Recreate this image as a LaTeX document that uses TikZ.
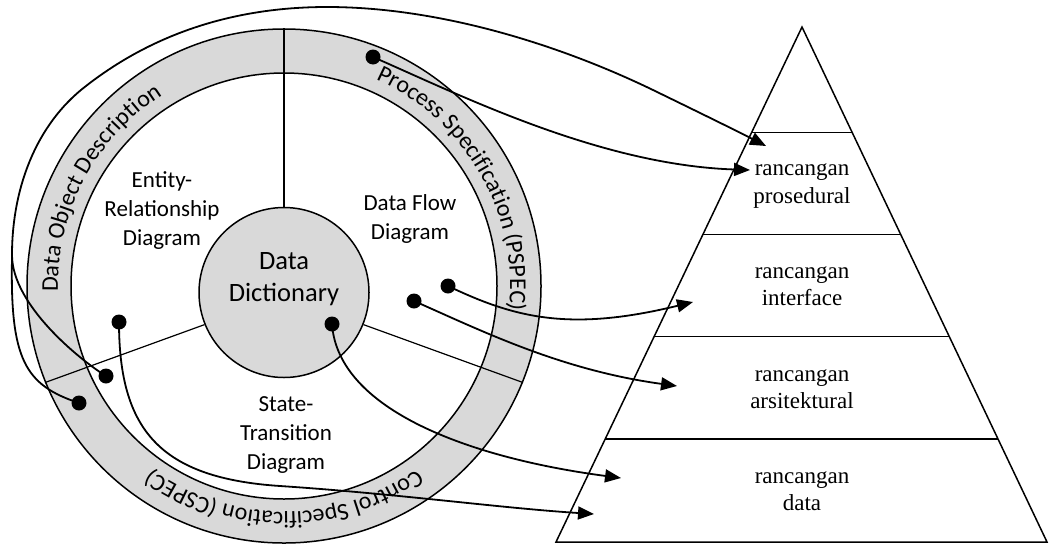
\documentclass[tikz,border=0pt]{standalone}
\usepackage{fontspec}
\setmainfont{Liberation Serif}
\setsansfont{Carlito}
\usetikzlibrary{arrows.meta,decorations.text,calc}
\definecolor{ringgray}{HTML}{D9D9D9}
\begin{document}
\begin{tikzpicture}[x=1pt,y=1pt,
  disc/.style={circle, draw, line width=1.5pt, inner sep=0pt},
  divider/.style={line width=1.2pt},
  pyr/.style={line width=1.5pt, line join=miter},
  conn/.style={line width=1.8pt, -{Triangle[length=16pt,width=13pt]}},
  link/.style={line width=1.8pt},
  dot/.style={circle, fill=black, minimum size=15pt, inner sep=0pt},
  lbl/.style={font=\sffamily\fontsize{23}{29}\selectfont, align=center, inner sep=0pt},
  lvl/.style={font=\fontsize{23}{27.5}\selectfont, align=center, inner sep=0pt},
  ringtext/.style={decorate, decoration={text along path, text align=center,
      text={|\sffamily\fontsize{24}{24}\selectfont|#1}}},
]
\useasboundingbox (0,0) rectangle (1064,-544);

% --- analysis model: outer ring, inner disc, data dictionary ---
\node[disc, fill=ringgray, minimum size=514pt] (ring) at (284,-286) {};
\node[disc, fill=white, minimum size=426pt] (inner) at (284,-286) {};
\node[disc, fill=ringgray, minimum size=170pt] (dd) at (284,-292.5) {};

% radial dividers between the three diagrams
\draw[divider] (dd.90)  -- (ring.90);
\draw[divider] (dd.202) -- (ring.202);
\draw[divider] (dd.338) -- (ring.338);

% labels inside the disc
\node[lbl] (erd) at (162,-211) {Entity-\\Relationship\\Diagram};
\node[lbl] (dfd) at (410,-219) {Data Flow\\Diagram};
\node[lbl] (std) at (286,-435) {State-\\Transition\\Diagram};
\node[lbl, font=\sffamily\fontsize{26.5}{32.5}\selectfont] (ddt) at (284,-279) {Data\\Dictionary};

% labels running round the ring (tops outward)
\path[ringtext={Data Object Description}] (284,-286) ++(197:226) arc[start angle=197, end angle=107, radius=226];
\path[ringtext={Process Specification (PSPEC)}] (284,-286) ++(75:226) arc[start angle=75, end angle=-15, radius=226];
\path[ringtext={Control Specification (CSPEC)}] (284,-286) ++(-45:226) arc[start angle=-45, end angle=-135, radius=226];

% --- design pyramid ---
\coordinate (apex) at (802,-27);
\coordinate (bl) at (556,-542);
\coordinate (br) at (1047,-542);
\draw[pyr] (apex) -- (br) -- (bl) -- cycle;
\foreach \t in {0.205,0.403,0.601,0.8}
  \draw[pyr] ($(apex)!\t!(bl)$) -- ($(apex)!\t!(br)$);

\node[lvl] (proc) at (802,-186) {rancangan\\prosedural};
\node[lvl] (intf) at (802,-286) {rancangan\\interface};
\node[lvl] (arch) at (802,-389) {rancangan\\arsitektural};
\node[lvl] (datad) at (802,-491) {rancangan\\data};

% --- connectors from the analysis model to the design levels ---
\node[dot] (dpspec) at (373,-57) {};
\node[dot] (ddfdA) at (448,-286) {};
\node[dot] (ddfdB) at (414,-301) {};
\node[dot] (ddict) at (332,-324) {};
\node[dot] (derd) at (119,-322) {};
\node[dot] (dstd) at (106,-376) {};
\node[dot] (dcspec) at (79,-403) {};

\coordinate (tProcA) at (766,-146);
\coordinate (tProcB) at (750,-170);
\coordinate (tIntf) at (693,-302);
\coordinate (tArch) at (677,-386);
\coordinate (tDataA) at (621,-478);
\coordinate (tDataB) at (594,-514);
\coordinate (merge) at (12,-258);

\draw[conn] (dpspec.center) .. controls (460,-95) and (600,-165) .. (tProcB);
\draw[conn] (dstd.center) .. controls (80,-360) and (12,-305) .. (12,-255)
  .. controls (12,-190) and (35,-125) .. (86,-86)
  .. controls (150,-36) and (230,-7) .. (327,-7)
  .. controls (440,-7) and (560,-45) .. (653,-90)
  .. controls (690,-108) and (735,-130) .. (tProcA);
\draw[link] (dcspec.center) .. controls (25,-385) and (10,-360) .. (merge);
\draw[conn] (ddfdA.center) .. controls (515,-318) and (570,-332) .. (tIntf);
\draw[conn] (ddfdB.center) .. controls (480,-330) and (560,-370) .. (tArch);
\draw[conn] (ddict.center) .. controls (338,-410) and (470,-458) .. (tDataA);
\draw[conn] (derd.center) .. controls (119,-430) and (160,-478) .. (280,-486)
  .. controls (400,-494) and (500,-508) .. (tDataB);
\end{tikzpicture}
\end{document}
